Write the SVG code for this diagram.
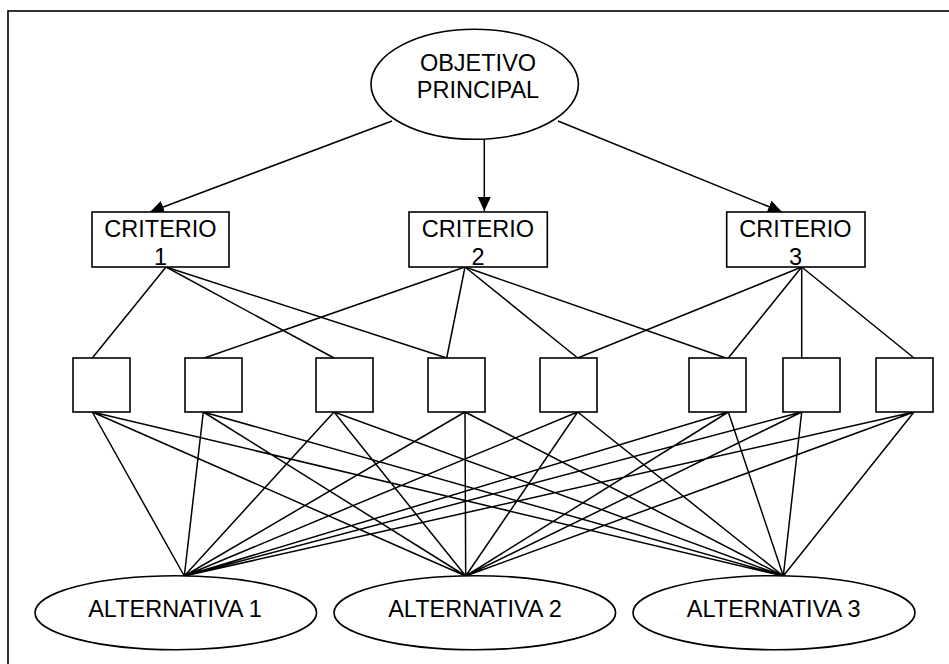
<svg xmlns="http://www.w3.org/2000/svg" width="949" height="664" viewBox="0 0 949 664">
<style>
.shape{fill:#fff;stroke:#000;stroke-width:1.6}
.ln{stroke:#000;stroke-width:1.5;fill:none}
.t{font-family:"Liberation Sans",Arial,sans-serif;font-size:23.5px;fill:#000;text-anchor:middle}
</style>
<defs>
<marker id="arr" viewBox="0 0 14 13" refX="14" refY="6.5" markerWidth="14" markerHeight="13" markerUnits="userSpaceOnUse" orient="auto">
<path d="M0,0 L14,6.5 L0,13 z" fill="#000"/>
</marker>
</defs>
<rect width="949" height="664" fill="#fff"/>
<rect x="8" y="11" width="960" height="680" fill="none" stroke="#000" stroke-width="1.6"/>
<g id="connectors">
<line class="ln" x1="392" y1="121" x2="150" y2="212" marker-end="url(#arr)"/>
<line class="ln" x1="484.3" y1="140" x2="484.3" y2="211" marker-end="url(#arr)"/>
<line class="ln" x1="558" y1="121" x2="782" y2="212" marker-end="url(#arr)"/>
<line class="ln" x1="166" y1="267" x2="92.3" y2="358"/>
<line class="ln" x1="166" y1="267" x2="334" y2="358"/>
<line class="ln" x1="166" y1="267" x2="446.7" y2="358"/>
<line class="ln" x1="465" y1="267" x2="204.3" y2="358"/>
<line class="ln" x1="465" y1="267" x2="446.7" y2="358"/>
<line class="ln" x1="465" y1="267" x2="577.7" y2="358"/>
<line class="ln" x1="465" y1="267" x2="725.7" y2="358"/>
<line class="ln" x1="801.7" y1="267" x2="577.7" y2="358"/>
<line class="ln" x1="801.7" y1="267" x2="728.3" y2="358"/>
<line class="ln" x1="801.7" y1="267" x2="801.7" y2="358"/>
<line class="ln" x1="801.7" y1="267" x2="914" y2="358"/>
<path class="ln" d="M92.3,412 L184.3,576 M92.3,412 L465.7,576 M92.3,412 L783.3,576
M203.3,412 L184.3,576 M203.3,412 L465.7,576 M203.3,412 L783.3,576
M334,412 L184.3,576 M334,412 L465.7,576 M334,412 L783.3,576
M465,412 L184.3,576 M465,412 L465.7,576 M465,412 L783.3,576
M577.7,412 L184.3,576 M577.7,412 L465.7,576 M577.7,412 L783.3,576
M728.3,412 L184.3,576 M728.3,412 L465.7,576 M728.3,412 L783.3,576
M801.7,412 L184.3,576 M801.7,412 L465.7,576 M801.7,412 L783.3,576
M914,412 L184.3,576 M914,412 L465.7,576 M914,412 L783.3,576"/>
</g>
<g id="objetivo">
<ellipse class="shape" cx="474.7" cy="84.3" rx="103.7" ry="55"/>
<text class="t" x="478" y="71">OBJETIVO</text>
<text class="t" x="478" y="98.3">PRINCIPAL</text>
</g>
<g id="criterio1">
<rect class="shape" x="92" y="212" width="137" height="55"/>
<text class="t" x="160.5" y="236.7">CRITERIO</text>
<text class="t" x="160.5" y="265">1</text>
</g>
<g id="criterio2">
<rect class="shape" x="409" y="212" width="138.3" height="55"/>
<text class="t" x="478" y="236.7">CRITERIO</text>
<text class="t" x="478" y="265">2</text>
</g>
<g id="criterio3">
<rect class="shape" x="726.7" y="212" width="138.3" height="55"/>
<text class="t" x="795.5" y="236.7">CRITERIO</text>
<text class="t" x="795.5" y="265">3</text>
</g>
<g id="sub1"><rect class="shape" x="73" y="358" width="57" height="54"/></g>
<g id="sub2"><rect class="shape" x="185" y="358" width="57" height="54"/></g>
<g id="sub3"><rect class="shape" x="316" y="358" width="57" height="54"/></g>
<g id="sub4"><rect class="shape" x="428" y="358" width="57" height="54"/></g>
<g id="sub5"><rect class="shape" x="540" y="358" width="57" height="54"/></g>
<g id="sub6"><rect class="shape" x="689" y="358" width="57" height="54"/></g>
<g id="sub7"><rect class="shape" x="783" y="358" width="57" height="54"/></g>
<g id="sub8"><rect class="shape" x="876" y="358" width="57" height="54"/></g>
<g id="alternativa1">
<ellipse class="shape" cx="175.8" cy="612.7" rx="140.8" ry="37"/>
<text class="t" x="175" y="616.7">ALTERNATIVA 1</text>
</g>
<g id="alternativa2">
<ellipse class="shape" cx="474.8" cy="612.7" rx="140.8" ry="37"/>
<text class="t" x="475" y="616.7">ALTERNATIVA 2</text>
</g>
<g id="alternativa3">
<ellipse class="shape" cx="774" cy="612.7" rx="141" ry="37"/>
<text class="t" x="773.7" y="616.7">ALTERNATIVA 3</text>
</g>
</svg>
